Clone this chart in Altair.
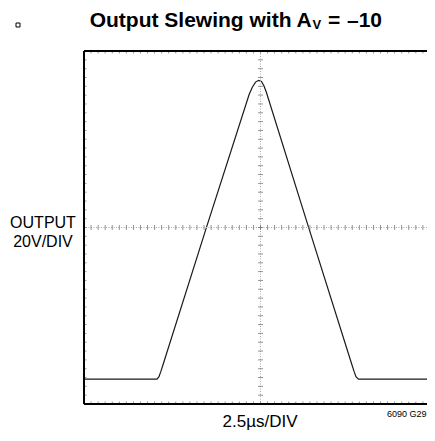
import altair as alt
import numpy as np
import pandas as pd

# ---- data (time in µs, output in V) ----
t_us = [0.0, 5.17, 5.31, 5.45, 5.59, 8.69, 11.70, 11.93, 12.15, 12.36,
        12.57, 12.75, 12.92, 15.89, 18.98, 19.12, 19.26, 19.44, 25.0]
v_out = [-68.7, -68.7, -67.6, -65.1, -62.3, 0.4, 60.4, 63.7, 65.9, 66.7,
         66.2, 64.1, 61.2, 0.4, -62.3, -65.1, -67.6, -68.7, -68.7]

# graticule: 10 x-divisions of 2.5 µs, 8 y-divisions of 20 V
grid_x = [2.5 * i for i in range(1, 10)]
grid_y = [20 * i for i in range(-3, 4)]
minor_x = list(np.arange(0, 25.01, 0.5))
minor_y = list(np.arange(-80, 80.01, 4))

title_main = "Output Slewing with A"
title_sub = "V"
title_eq = "="
title_val = "\u201310"
y_label = ["OUTPUT", "20V/DIV"]
x_label = "2.5\u00b5s/DIV"
code_label = "6090 G29"

PX_PER_DIV_X = 35.3
W, H = 343, 353          # visible part of the 10-division screen (right edge is cut off)
X_MAX = 2.5 * W / PX_PER_DIV_X
FONT = "Liberation Sans, Arial, sans-serif"

xs = alt.Scale(domain=[0, X_MAX], nice=False, zero=False)
ys = alt.Scale(domain=[-80, 80], nice=False, zero=False)

one = pd.DataFrame({"a": [0]})
wave_df = pd.DataFrame({"t": t_us, "v": v_out})
mx_df = pd.DataFrame({"t": minor_x})
my_df = pd.DataFrame({"v": minor_y})

wave = alt.Chart(wave_df).mark_line(color="#1a1a1a", strokeWidth=1.2, clip=True).encode(
    x=alt.X("t:Q", scale=xs, axis=alt.Axis(values=grid_x, grid=True, gridDash=[1.5, 7.325],
                                            gridColor="#777777", gridWidth=1.3, labels=False,
                                            ticks=False, domain=False, title=None)),
    y=alt.Y("v:Q", scale=ys, axis=alt.Axis(values=grid_y, grid=True, gridDash=[1.5, 5.56],
                                            gridColor="#777777", gridWidth=1.3, labels=False,
                                            ticks=False, domain=False, title=None)),
)

center_v = alt.Chart(one).mark_rule(color="#aaaaaa", strokeDash=[1, 1.5]).encode(x=alt.datum(12.5))
center_h = alt.Chart(one).mark_rule(color="#aaaaaa", strokeDash=[1, 1.5]).encode(y=alt.datum(0))

def xticks(level):
    return alt.Chart(mx_df).mark_tick(orient="vertical", size=5, thickness=1,
                                      color="#666666", clip=True).encode(
        x=alt.X("t:Q", scale=xs, axis=None), y=alt.datum(level))

def yticks(pos):
    return alt.Chart(my_df).mark_tick(orient="horizontal", size=5, thickness=1,
                                      color="#666666", clip=True).encode(
        y=alt.Y("v:Q", scale=ys, axis=None), x=alt.datum(pos))

left_b = alt.Chart(one).mark_rule(color="black", strokeWidth=2).encode(x=alt.datum(0))
top_b = alt.Chart(one).mark_rule(color="black", strokeWidth=2).encode(y=alt.datum(80))
bot_b = alt.Chart(one).mark_rule(color="black", strokeWidth=2).encode(y=alt.datum(-80))

def txt(s, x, y, size, weight="normal", align="center"):
    return alt.Chart(one).mark_text(text=s, font=FONT, fontSize=size, fontWeight=weight,
                                    align=align, baseline="alphabetic", color="black").encode(
        x=alt.value(x), y=alt.value(y))

texts = [
    txt(title_main, 227.7, -23.7, 21, "bold", "right"),
    txt(title_sub, 228.5, -22.5, 13, "bold", "left"),
    txt(title_eq, 244, -23.7, 21, "bold", "left"),
    txt(title_val, 263, -23.7, 21, "bold", "left"),
    txt(y_label[0], -41, 177, 16),
    txt(y_label[1], -41, 195.7, 16),
    txt(x_label, 176, 376, 17),
    txt(code_label, 303, 365.7, 9, "normal", "left"),
]

square = alt.Chart(one).mark_point(shape="square", size=16, filled=False, color="black",
                                    strokeWidth=1, opacity=1).encode(
    x=alt.value(-66), y=alt.value(-26))

chart = alt.layer(
    wave, center_v, center_h,
    xticks(0), xticks(80), xticks(-80), yticks(12.5), yticks(0),
    left_b, top_b, bot_b, square, *texts,
).properties(
    width=W, height=H,
    autosize=alt.AutoSizeParams(type="none"),
    padding={"left": 76, "top": 43, "right": 0, "bottom": 28},
).configure_view(stroke=None)

chart.save("out.html", embed_options={"renderer": "svg", "actions": False})
